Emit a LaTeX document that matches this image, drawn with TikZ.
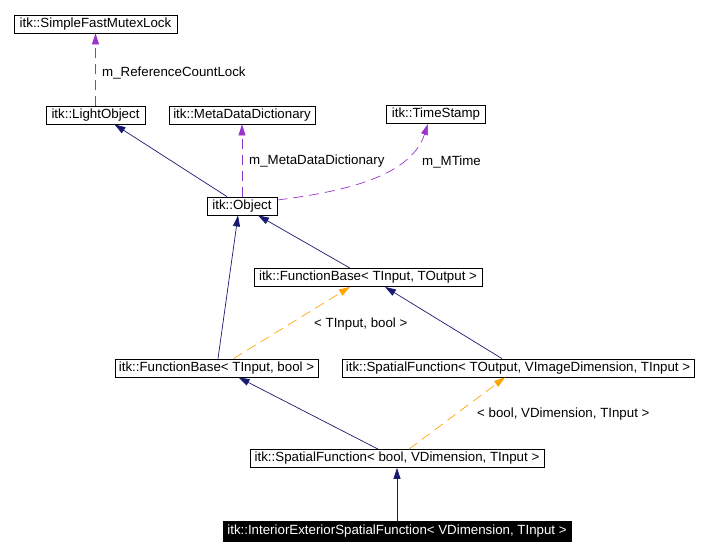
\documentclass[tikz,border=0pt]{standalone}
\usepackage{fontspec}
\setmainfont{Liberation Sans}
\usetikzlibrary{arrows.meta}

\definecolor{inhcol}{RGB}{25,25,112}
\definecolor{memcol}{RGB}{154,50,205}
\definecolor{tplcol}{RGB}{255,165,0}

\begin{document}
\begin{tikzpicture}[x=1pt, y=-1pt,
  cls/.style={draw=black, fill=white, inner sep=0pt, minimum height=18pt,
              line width=0.8pt, font=\fontsize{13.3}{16}\selectfont},
  cur/.style={cls, draw=black, fill=black, text=white},
  inh/.style={-{Triangle[length=11pt, width=7pt]}, draw=inhcol,
              line width=0.7pt},
  mem/.style={-{Triangle[length=11pt, width=7pt]}, draw=memcol,
              line width=0.7pt, dash pattern=on 10pt off 6pt},
  tpl/.style={-{Triangle[length=11pt, width=7pt]}, draw=tplcol,
              line width=0.7pt, dash pattern=on 10pt off 6pt},
  lbl/.style={font=\fontsize{13.3}{16}\selectfont, anchor=west, inner sep=0pt}
]
  \useasboundingbox (0,0) rectangle (708,555);

  % ========== TOP ROW: members and bases ==========
  \node[cls, minimum width=163pt] (mutex) at (95.5, 24) {itk::SimpleFastMutexLock};
  \node[cls, minimum width=99pt]  (light) at (95.5, 115) {itk::LightObject};
  \node[cls, minimum width=146pt] (meta)  at (242, 115) {itk::MetaDataDictionary};
  \node[cls, minimum width=99pt]  (stamp) at (436, 114.5) {itk::TimeStamp};
  \node[cls, minimum width=70pt]  (obj)   at (242, 206) {itk::Object};

  % ========== MIDDLE: function bases ==========
  \node[cls, minimum width=228pt] (fbto) at (368, 277.5) {itk::FunctionBase< TInput, TOutput >};
  \node[cls, minimum width=203pt] (fbtb) at (216.5, 368) {itk::FunctionBase< TInput, bool >};
  \node[cls, minimum width=352pt] (sfto) at (518, 368)
    {itk::SpatialFunction< TOutput, VImageDimension, TInput >};

  % ========== BOTTOM: spatial functions ==========
  \node[cls, minimum width=294pt] (sfb) at (397, 458.5)
    {itk::SpatialFunction< bool, VDimension, TInput >};
  \node[cur, minimum width=348pt, minimum height=20pt] (iesf) at (397, 531)
    {itk::InteriorExteriorSpatialFunction< VDimension, TInput >};

  % ======== MEMBERS ========
  \draw[mem] (light.north) -- (mutex.south);
  \node[lbl] (lblmutex) at (102, 72.5) {m\_ReferenceCountLock};

  \draw[mem] (obj.north) -- (meta.south);
  \node[lbl] (lblmeta) at (249, 161.5) {m\_MetaDataDictionary};

  \draw[mem] ([yshift=6pt]obj.east) .. controls (340, 192) and (410, 178)
    .. ([xshift=-8pt]stamp.south);
  \node[lbl] (lblstamp) at (422, 161.5) {m\_MTime};

  % ======== INHERITANCE ========
  \draw[inh] ([xshift=-15pt]obj.north) -- ([xshift=19pt]light.south);
  \draw[inh] ([xshift=-18pt]fbto.north) -- ([xshift=16pt]obj.south);
  \draw[inh] ([xshift=1.5pt]fbtb.north) -- ([xshift=-4pt]obj.south);
  \draw[inh] ([xshift=-16pt]sfto.north) -- ([xshift=17pt]fbto.south);
  \draw[inh] ([xshift=-19pt]sfb.north) -- ([xshift=22pt]fbtb.south);
  \draw[inh] (iesf.north) -- (sfb.south);

  % ======== TEMPLATE INSTANCES ========
  \draw[tpl] ([xshift=17pt]fbtb.north) -- ([xshift=-18pt]fbto.south);
  \node[lbl] (lblfb) at (314, 324.5) {< TInput, bool >};

  \draw[tpl] ([xshift=12pt]sfb.north) -- ([xshift=-13pt]sfto.south);
  \node[lbl] (lblsf) at (477, 414.5) {< bool, VDimension, TInput >};

\end{tikzpicture}
\end{document}
